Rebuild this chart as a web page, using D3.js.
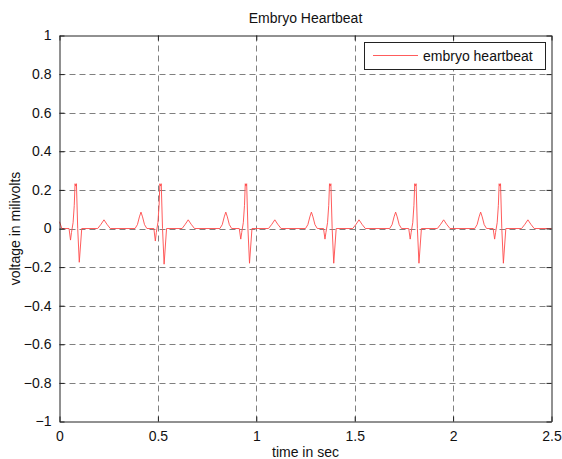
<!DOCTYPE html>
<html>
<head>
<meta charset="utf-8">
<script src="https://cdn.jsdelivr.net/npm/d3@7"></script>
<style>
  body { margin: 0; background: #fff; }
  svg { display: block; }
  text { font-family: "Liberation Sans", Arial, Helvetica, sans-serif; fill: #111; }
</style>
</head>
<body>
<svg id="chart" width="562" height="459"></svg>
<script>
// ---- data ----
const title = "Embryo Heartbeat";
const xLabel = "time in sec";
const yLabel = "voltage in milivolts";
const seriesName = "embryo heartbeat";

const xTicks = [0, 0.5, 1, 1.5, 2, 2.5];
const yTicks = [-1, -0.8, -0.6, -0.4, -0.2, 0, 0.2, 0.4, 0.6, 0.8, 1];

const times = [
  0, 0.012,
  0.0485, 0.056, 0.061, 0.069, 0.075, 0.079, 0.0825, 0.086, 0.0925, 0.1005, 0.113,
  0.194, 0.211, 0.226, 0.241, 0.258,
  0.384, 0.396, 0.406, 0.414, 0.422, 0.432, 0.444,
  0.4795, 0.487, 0.492, 0.500, 0.506, 0.510, 0.5135, 0.517, 0.5235, 0.5315, 0.544,
  0.623, 0.639, 0.654, 0.669, 0.686,
  0.815, 0.827, 0.837, 0.845, 0.853, 0.863, 0.875,
  0.9135, 0.921, 0.926, 0.934, 0.940, 0.944, 0.9475, 0.951, 0.9575, 0.9655, 0.978,
  1.062, 1.079, 1.094, 1.109, 1.126,
  1.250, 1.262, 1.272, 1.280, 1.288, 1.298, 1.310,
  1.3415, 1.349, 1.354, 1.362, 1.368, 1.372, 1.3755, 1.379, 1.3855, 1.3935, 1.406,
  1.490, 1.507, 1.522, 1.537, 1.554,
  1.678, 1.690, 1.700, 1.708, 1.716, 1.726, 1.738,
  1.7745, 1.782, 1.787, 1.795, 1.801, 1.805, 1.8085, 1.812, 1.8185, 1.8265, 1.839,
  1.920, 1.937, 1.952, 1.967, 1.984,
  2.110, 2.122, 2.132, 2.140, 2.148, 2.158, 2.170,
  2.2035, 2.211, 2.216, 2.224, 2.230, 2.234, 2.2375, 2.241, 2.2475, 2.2555, 2.268,
  2.348, 2.365, 2.380, 2.395, 2.412,
  2.5
];

const volts = [
  0.035, 0,
  0, -0.06, -0.02, 0.03, 0.12, 0.232, 0.22, 0.232, 0, -0.175, 0,
  0, 0.022, 0.045, 0.022, 0,
  0, 0.02, 0.06, 0.085, 0.06, 0.02, 0,
  0, -0.065, -0.02, 0.03, 0.12, 0.232, 0.22, 0.232, 0, -0.185, 0,
  0, 0.022, 0.045, 0.022, 0,
  0, 0.02, 0.06, 0.085, 0.06, 0.02, 0,
  0, -0.055, -0.02, 0.03, 0.12, 0.232, 0.22, 0.232, 0, -0.18, 0,
  0, 0.022, 0.045, 0.022, 0,
  0, 0.02, 0.06, 0.085, 0.06, 0.02, 0,
  0, -0.055, -0.02, 0.03, 0.12, 0.232, 0.22, 0.232, 0, -0.18, 0,
  0, 0.022, 0.045, 0.022, 0,
  0, 0.02, 0.06, 0.085, 0.06, 0.02, 0,
  0, -0.055, -0.02, 0.03, 0.12, 0.232, 0.22, 0.232, 0, -0.18, 0,
  0, 0.022, 0.045, 0.022, 0,
  0, 0.02, 0.06, 0.085, 0.06, 0.02, 0,
  0, -0.055, -0.02, 0.03, 0.12, 0.232, 0.22, 0.232, 0, -0.18, 0,
  0, 0.022, 0.045, 0.022, 0,
  0
];

// ---- layout ----
const svg = d3.select("#chart");
const mLeft = 59.5, mRight = 551.5, mTop = 35.5, mBottom = 421.5;

const x = d3.scaleLinear().domain([0, 2.5]).range([mLeft, mRight]);
const y = d3.scaleLinear().domain([-1, 1]).range([mBottom, mTop]);

// grid
const grid = svg.append("g").attr("stroke", "#808080").attr("stroke-width", 1)
  .attr("stroke-dasharray", "6,4");
grid.selectAll("line.v").data(xTicks.filter(d => d > 0 && d < 2.5)).enter()
  .append("line").attr("x1", d => Math.round(x(d)) + 0.5).attr("x2", d => Math.round(x(d)) + 0.5)
  .attr("y1", mTop).attr("y2", mBottom);
grid.selectAll("line.h").data(yTicks.filter(d => d > -1 && d < 1)).enter()
  .append("line").attr("y1", d => Math.round(y(d)) + 0.5).attr("y2", d => Math.round(y(d)) + 0.5)
  .attr("x1", mLeft).attr("x2", mRight);

// signal
const data = times.map((t, i) => [t, volts[i]]);
const line = d3.line().x(d => x(d[0])).y(d => y(d[1]));
svg.append("path").datum(data).attr("d", line)
  .attr("fill", "none").attr("stroke", "#ff4a4a").attr("stroke-width", 0.9);

// axes (inward ticks)
const axB = d3.axisBottom(x).tickValues(xTicks).tickSizeInner(-5).tickSizeOuter(0).tickPadding(10)
  .tickFormat(d3.format("~g"));
const axL = d3.axisLeft(y).tickValues(yTicks).tickSizeInner(-5).tickSizeOuter(0).tickPadding(8)
  .tickFormat(d3.format("~g"));
const axT = d3.axisTop(x).tickValues(xTicks).tickSizeInner(-5).tickSizeOuter(0).tickFormat("");
const axR = d3.axisRight(y).tickValues(yTicks).tickSizeInner(-5).tickSizeOuter(0).tickFormat("");

function style(g) {
  g.select(".domain").attr("stroke", "#222");
  g.selectAll(".tick line").attr("stroke", "#222");
  g.selectAll("text").attr("font-size", 14).attr("fill", "#111")
    .attr("font-family", "'Liberation Sans', Arial, sans-serif");
}
svg.append("g").attr("transform", `translate(0,${mBottom})`).call(axB).call(style);
svg.append("g").attr("transform", `translate(${mLeft},0)`).call(axL).call(style);
svg.append("g").attr("transform", `translate(0,${mTop})`).call(axT).call(style);
svg.append("g").attr("transform", `translate(${mRight},0)`).call(axR).call(style);

// title & labels
svg.append("text").attr("x", (mLeft + mRight) / 2).attr("y", 23).attr("text-anchor", "middle")
  .attr("font-size", 14).text(title);
svg.append("text").attr("x", (mLeft + mRight) / 2).attr("y", 457).attr("text-anchor", "middle")
  .attr("font-size", 14).text(xLabel);
svg.append("text").attr("transform", `translate(20,${(mTop + mBottom) / 2}) rotate(-90)`)
  .attr("text-anchor", "middle").attr("font-size", 14).text(yLabel);

// legend
const lg = svg.append("g");
lg.append("rect").attr("x", 364.5).attr("y", 42.5).attr("width", 181).attr("height", 27)
  .attr("fill", "#fff").attr("stroke", "#222").attr("stroke-width", 1);
lg.append("line").attr("x1", 373).attr("x2", 418).attr("y1", 55.5).attr("y2", 55.5)
  .attr("stroke", "#ff4a4a").attr("stroke-width", 0.9);
lg.append("text").attr("x", 423).attr("y", 60.5).attr("font-size", 14).text(seriesName);
</script>
</body>
</html>
